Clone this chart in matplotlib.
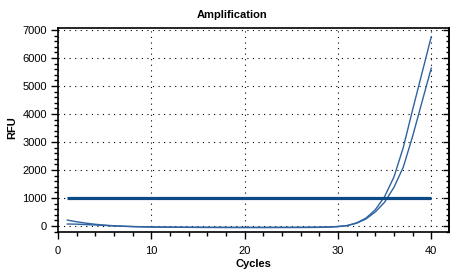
import matplotlib
matplotlib.use("Agg")
import matplotlib.pyplot as plt
from matplotlib.ticker import MultipleLocator

cycles = list(range(1, 41))
rfu_a = [210, 150, 100, 60, 30, 8, -10, -22, -30, -38, -42, -45, -48, -50, -52, -54, -55, -56, -57, -58,
         -58, -58, -57, -57, -56, -55, -53, -50, -42, -25, 15, 110, 280, 580, 1050, 1750, 2800, 4150, 5450, 6760]
rfu_b = [70, 65, 50, 35, 18, 2, -10, -20, -28, -34, -38, -40, -42, -44, -45, -46, -47, -48, -48, -48,
         -48, -48, -47, -47, -46, -45, -43, -40, -33, -18, 15, 100, 250, 500, 850, 1380, 2100, 3200, 4420, 5640]
threshold_x = [1, 40]
threshold_y = [1000, 1000]
title = "Amplification"
xlabel = "Cycles"
ylabel = "RFU"

plt.rcParams['font.family'] = ['Liberation Sans', 'DejaVu Sans']

fig = plt.figure(figsize=(4.64, 2.76), dpi=100)
ax = fig.add_axes([58/464, 1-232/276, (449-58)/464, (232-28)/276])

line_color = '#2f62a0'
ax.plot(cycles, rfu_a, color=line_color, lw=1.0, zorder=3)
ax.plot(cycles, rfu_b, color=line_color, lw=1.0, zorder=3)
ax.plot(threshold_x, threshold_y, color='#0b4a84', lw=2.3, zorder=4, solid_capstyle='butt')

ax.set_xlim(0, 41.9)
ax.set_ylim(-215, 7070)
ax.xaxis.set_major_locator(MultipleLocator(10))
ax.xaxis.set_minor_locator(MultipleLocator(2))
ax.yaxis.set_major_locator(MultipleLocator(1000))
ax.yaxis.set_minor_locator(MultipleLocator(200))

ax.grid(True, which='major', color='black', lw=0.8, linestyle=(0, (1, 4)))
ax.tick_params(which='major', direction='out', length=5, width=1, labelsize=8, colors='black', pad=3)
ax.tick_params(which='minor', direction='out', length=3, width=1)
ax.tick_params(axis='x', pad=5)
for s in ax.spines.values():
    s.set_linewidth(1.2)
    s.set_color('black')

sec = ax.secondary_yaxis('right')
sec.yaxis.set_major_locator(MultipleLocator(1000))
sec.yaxis.set_minor_locator(MultipleLocator(200))
sec.tick_params(which='major', direction='in', length=4, width=1, labelright=False)
sec.tick_params(which='minor', direction='in', length=2.5, width=1, labelright=False)
sec.spines['right'].set_linewidth(1.2)

fig.text(0.5, 1-15/276, title, ha='center', va='center', fontsize=8, fontweight='bold')
fig.text(253/464, 1-264/276, xlabel, ha='center', va='center', fontsize=8, fontweight='bold')
fig.text(12/464, 1-128/276, ylabel, ha='center', va='center', rotation=90, fontsize=8, fontweight='bold')

fig.savefig("out.png", dpi=100)
